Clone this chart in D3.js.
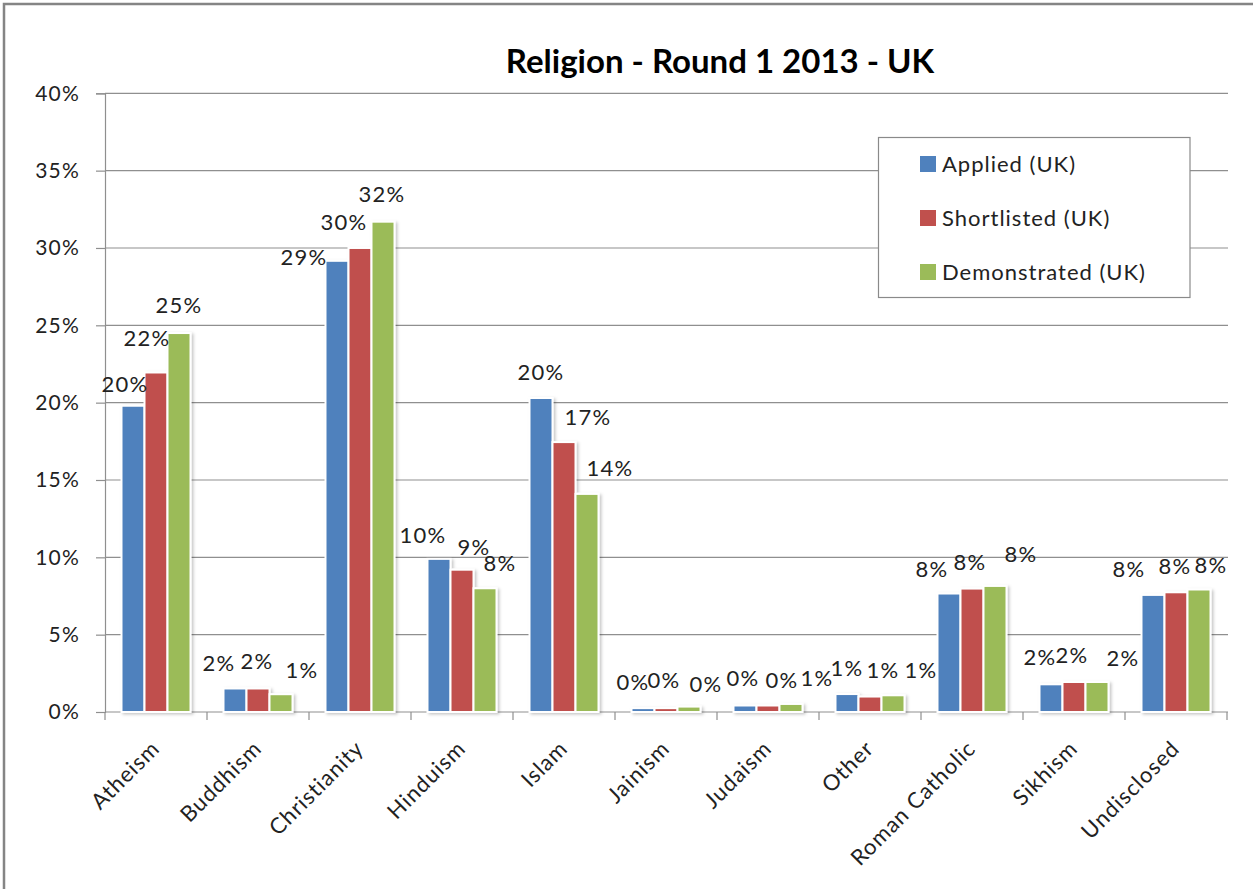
<!DOCTYPE html>
<html>
<head>
<meta charset="utf-8">
<script src="https://cdn.jsdelivr.net/npm/d3@7/dist/d3.min.js"></script>
<style>
  html, body { margin: 0; padding: 0; background: #fff; }
  svg { display: block; }
  text { font-family: Lato, "Open Sans", sans-serif; fill: #222; }
</style>
</head>
<body>
<svg id="chart" width="1253" height="889"></svg>
<script>
// Religion breakdown, Round 1 2013, UK (values in percent)
const categories = ["Atheism", "Buddhism", "Christianity", "Hinduism", "Islam", "Jainism",
                    "Judaism", "Other", "Roman Catholic", "Sikhism", "Undisclosed"];
const seriesNames = ["Applied (UK)", "Shortlisted (UK)", "Demonstrated (UK)"];
const applied      = [19.8, 1.52, 29.17, 9.9, 20.3, 0.25, 0.42, 1.16, 7.66, 1.79, 7.57];
const shortlisted  = [21.95, 1.52, 30.0, 9.2, 17.45, 0.25, 0.42, 1.0, 7.98, 1.94, 7.74];
const demonstrated = [24.5, 1.15, 31.7, 8.0, 14.1, 0.35, 0.52, 1.08, 8.15, 1.94, 7.92];
const yTicks = [0, 5, 10, 15, 20, 25, 30, 35, 40];

// Hand-placed data label nudges (dx, dy from bar top-centre), per series
const labelNudge = [
  [[-8, -22], [-16, -25], [-33, -4], [-16, -24], [0, -26], [-10, -26], [-2, -27], [0, -26], [-17, -24], [-11, -27], [-24, -26]],
  [[-9, -34], [-1, -27], [-16, -26], [12, -23], [24, -25], [-2, -28], [14, -25], [13, -26], [-2, -26], [-2, -27], [-1, -26]],
  [[0, -28], [21, -24], [-1, -28], [15, -25], [23, -26], [17, -23], [26, -26], [28, -25], [26, -32], [26, -24], [12, -24]]
];

const colors = ["#4F81BD", "#C0504D", "#9BBB59"];
const seriesValues = [applied, shortlisted, demonstrated];

const svg = d3.select("#chart");
const plot = { left: 105, right: 1227, top: 93.3, bottom: 712 };

// outer chart frame
svg.append("rect")
  .attr("x", 4).attr("y", 4).attr("width", 1400).attr("height", 1000)
  .attr("fill", "#fff").attr("stroke", "#858585").attr("stroke-width", 2.5);

const defs = svg.append("defs");
const shadow = defs.append("filter").attr("id", "barShadow")
  .attr("x", "-20%").attr("y", "-20%").attr("width", "150%").attr("height", "150%");
shadow.append("feDropShadow").attr("dx", 2).attr("dy", 1.5).attr("stdDeviation", 1.5)
  .attr("flood-color", "#000").attr("flood-opacity", 0.22);

const x = d3.scaleBand().domain(categories).range([plot.left, plot.right]).padding(0);
const xs = d3.scaleBand().domain(seriesNames).range([-34.5, 34.5]).padding(0);
const y = d3.scaleLinear().domain([0, 40]).range([plot.bottom, plot.top]);

// title
svg.append("text")
  .attr("x", 720).attr("y", 73)
  .attr("text-anchor", "middle")
  .style("font-size", "33px").style("font-weight", "bold").style("fill", "#000")
  .text("Religion - Round 1 2013 - UK");

// horizontal gridlines
svg.append("g").selectAll("line").data(yTicks.filter(t => t > 0)).join("line")
  .attr("x1", plot.left).attr("x2", plot.right + 1)
  .attr("y1", d => y(d)).attr("y2", d => y(d))
  .attr("stroke", "#8f8f8f").attr("stroke-width", 1.2);

// y axis
const yAxis = svg.append("g")
  .attr("transform", `translate(${plot.left},0)`)
  .call(d3.axisLeft(y).tickValues(yTicks).tickSize(9).tickPadding(16).tickFormat(d => d + "%"));
yAxis.select(".domain").attr("stroke", "#8f8f8f").attr("stroke-width", 1.2);
yAxis.selectAll(".tick line").attr("stroke", "#8f8f8f").attr("stroke-width", 1.2);
yAxis.selectAll(".tick text")
  .style("font-size", "21px").style("font-family", "Lato, sans-serif")
  .style("letter-spacing", "1.2px").attr("fill", "#222");

// x axis line with category boundary ticks
svg.append("line")
  .attr("x1", plot.left).attr("x2", plot.right + 1)
  .attr("y1", plot.bottom).attr("y2", plot.bottom)
  .attr("stroke", "#8f8f8f").attr("stroke-width", 1.2);
const bounds = categories.map(c => x(c)).concat([x(categories[categories.length - 1]) + x.bandwidth()]);
svg.append("g").selectAll("line").data(bounds).join("line")
  .attr("x1", d => d).attr("x2", d => d)
  .attr("y1", plot.bottom).attr("y2", plot.bottom + 8)
  .attr("stroke", "#8f8f8f").attr("stroke-width", 1.2);

// bars
const barData = [];
seriesValues.forEach((vals, s) => {
  vals.forEach((v, i) => barData.push({ s, i, v, cat: categories[i] }));
});
const barW = xs.bandwidth();
const cx = d => x(d.cat) + x.bandwidth() / 2 + xs(seriesNames[d.s]) + barW / 2;

svg.append("g").attr("filter", "url(#barShadow)")
  .selectAll("rect").data(barData).join("rect")
  .attr("x", d => cx(d) - barW / 2)
  .attr("y", d => y(d.v))
  .attr("width", barW)
  .attr("height", d => y(0) - y(d.v))
  .attr("fill", d => colors[d.s])
  .attr("stroke", "#fff").attr("stroke-width", 2);

// data labels
svg.append("g").selectAll("text").data(barData).join("text")
  .attr("x", d => cx(d) + labelNudge[d.s][d.i][0])
  .attr("y", d => y(d.v) + labelNudge[d.s][d.i][1])
  .attr("dy", "0.36em")
  .attr("text-anchor", "middle")
  .style("font-size", "22px").style("letter-spacing", "1.2px")
  .text(d => Math.round(d.v) + "%");

// category labels, rotated
svg.append("g").selectAll("text").data(categories).join("text")
  .attr("transform", d => `translate(${x(d) + x.bandwidth() / 2 + 5},${750}) rotate(-45)`)
  .attr("text-anchor", "end")
  .style("font-size", "22px").style("letter-spacing", "1px")
  .text(d => d);

// legend
const lg = svg.append("g");
lg.append("rect")
  .attr("x", 878.5).attr("y", 137.5).attr("width", 311.5).attr("height", 160)
  .attr("fill", "#fff").attr("stroke", "#8a8a8a").attr("stroke-width", 1.2);
const rowY = [164, 218, 272];
seriesNames.forEach((name, s) => {
  lg.append("rect")
    .attr("x", 920).attr("y", rowY[s] - 8).attr("width", 16).attr("height", 16)
    .attr("fill", colors[s]);
  lg.append("text")
    .attr("x", 942).attr("y", rowY[s]).attr("dy", "0.36em")
    .style("font-size", "22px").style("letter-spacing", "1px")
    .text(name);
});
</script>
</body>
</html>
